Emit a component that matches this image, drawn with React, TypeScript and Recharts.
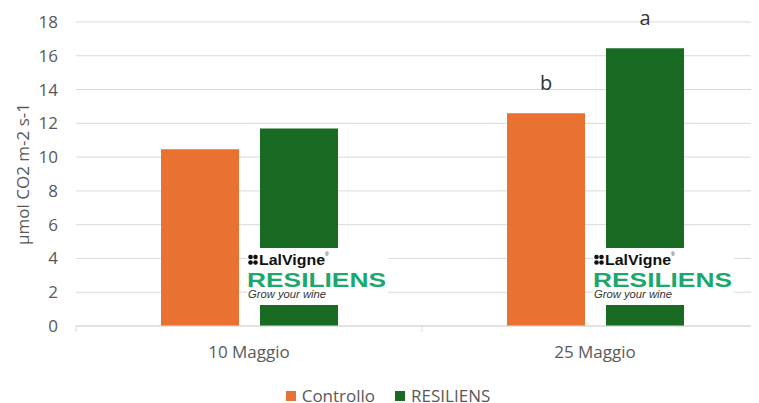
import React from "react";
import {
  BarChart,
  Bar,
  XAxis,
  YAxis,
  CartesianGrid,
  Legend,
  LabelList,
} from "recharts";

const categories = ["10 Maggio", "25 Maggio"];
const controllo = [10.47, 12.6];
const resiliens = [11.7, 16.44];
const controlloLetters = ["", "b"];
const resiliensLetters = ["", "a"];
const yTicks = [0, 2, 4, 6, 8, 10, 12, 14, 16, 18];

const data = categories.map((name, i) => ({
  name,
  controllo: controllo[i],
  resiliens: resiliens[i],
  letterC: controlloLetters[i],
  letterR: resiliensLetters[i],
}));

const FONT = "'Open Sans', sans-serif";
const GREY = "#595959";
const ORANGE = "#E97132";
const GREEN = "#196B24";

const CategoryTick = ({ x, y, payload }: any) => {
  const half = payload?.offset ?? 173;
  return (
    <g>
      <line x1={x - half} x2={x - half} y1={y} y2={y + 6} stroke="#d9d9d9" />
      <text x={x} y={y + 32} textAnchor="middle" fill={GREY} fontSize={17} fontFamily={FONT}>
        {payload.value}
      </text>
    </g>
  );
};

// LalVigne RESILIENS badge drawn over the lower part of each green bar
const Logo = (props: any) => {
  const bottom = Number(props.y) + Number(props.height);
  const left = Number(props.x) - 13;
  const top = bottom - 78;
  const logoFont = "'Liberation Sans', Arial, sans-serif";
  return (
    <g>
      <rect x={left} y={top} width={141} height={57} fill="#ffffff" />
      <circle cx={left + 3.5} cy={top + 9} r={2.3} fill="#111" />
      <circle cx={left + 8.5} cy={top + 9} r={2.3} fill="#111" />
      <circle cx={left + 3.5} cy={top + 14.5} r={2.3} fill="#111" />
      <circle cx={left + 8.5} cy={top + 14.5} r={2.3} fill="#111" />
      <text
        x={left + 12}
        y={top + 17}
        fontFamily={logoFont}
        fontWeight="bold"
        fontSize={15}
        fill="#111"
        textLength={66}
        lengthAdjust="spacingAndGlyphs"
      >
        LalVigne
      </text>
      <text x={left + 78} y={top + 8} fontFamily={logoFont} fontSize={5} fill="#111">
        ®
      </text>
      <text
        x={left}
        y={top + 39}
        fontFamily={logoFont}
        fontWeight="bold"
        fontSize={20}
        fill="#1BA86C"
        textLength={139}
        lengthAdjust="spacingAndGlyphs"
      >
        RESILIENS
      </text>
      <text
        x={left + 1}
        y={top + 50}
        fontFamily={logoFont}
        fontStyle="italic"
        fontSize={11}
        fill="#333"
        textLength={78}
        lengthAdjust="spacingAndGlyphs"
      >
        Grow your wine
      </text>
    </g>
  );
};

const LegendContent = ({ payload }: any) => (
  <div
    style={{
      display: "flex",
      justifyContent: "center",
      gap: 20,
      height: 14,
      lineHeight: "14px",
      fontFamily: FONT,
      fontSize: 17,
      color: GREY,
    }}
  >
    {(payload || []).map((p: any) => (
      <span key={p.value} style={{ display: "flex", alignItems: "center" }}>
        <span
          style={{ width: 10, height: 10, background: p.color, marginRight: 6, display: "inline-block" }}
        />
        {p.value}
      </span>
    ))}
  </div>
);

export default function App() {
  return (
    <div style={{ width: 751, height: 395, overflow: "hidden" }}>
      <BarChart
        width={760}
        height={395}
        data={data}
        margin={{ top: 14, right: 0, bottom: 0, left: 0 }}
        barSize={78}
        barGap={21}
      >
        <CartesianGrid vertical={false} stroke="#d9d9d9" />
        <XAxis
          dataKey="name"
          axisLine={{ stroke: "#d9d9d9" }}
          tickLine={false}
          tickSize={0}
          tickMargin={0}
          height={63}
          tick={(p: any) => <CategoryTick {...p} />}
        />
        <YAxis
          domain={[0, 18]}
          ticks={yTicks}
          interval={0}
          width={68}
          axisLine={false}
          tickLine={false}
          tickSize={0}
          tickMargin={18}
          tick={{ fill: GREY, fontSize: 17, fontFamily: FONT }}
          label={{
            content: ({ viewBox }: any) => (
              <text
                x={14}
                y={viewBox.y + viewBox.height / 2}
                transform={`rotate(-90, 14, ${viewBox.y + viewBox.height / 2})`}
                textAnchor="middle"
                dominantBaseline="central"
                fill={GREY}
                fontSize={17}
                fontFamily={FONT}
              >
                µmol CO2 m-2 s-1
              </text>
            ),
          }}
        />
        <Legend verticalAlign="bottom" wrapperStyle={{ bottom: 0 }} content={<LegendContent />} />
        <Bar dataKey="controllo" name="Controllo" fill={ORANGE} isAnimationActive={false}>
          <LabelList dataKey="letterC" position="top" offset={23} fill="#333" fontSize={20} fontFamily={FONT} />
        </Bar>
        <Bar dataKey="resiliens" name="RESILIENS" fill={GREEN} isAnimationActive={false}>
          <LabelList dataKey="letterR" position="top" offset={23} fill="#333" fontSize={20} fontFamily={FONT} />
          <LabelList dataKey="resiliens" content={<Logo />} />
        </Bar>
      </BarChart>
    </div>
  );
}
